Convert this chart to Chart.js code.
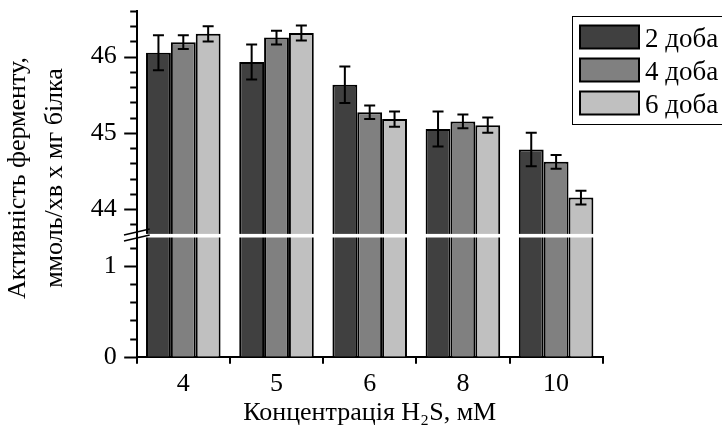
<!DOCTYPE html>
<html>
<head>
<meta charset="utf-8">
<script src="https://cdn.jsdelivr.net/npm/chart.js@4.4.1/dist/chart.umd.min.js"></script>
<style>
    html, body { margin: 0; padding: 0; background: #fff; }
    #wrap { width: 722px; height: 433px; position: relative; }
</style>
</head>
<body>
<div id="wrap"><canvas id="enzymeChart"></canvas></div>
<script>

// concentrations of H2S, mM
const categories = ["4", "5", "6", "8", "10"];

const seriesNames = ["2 доба", "4 доба", "6 доба"];

// enzyme activity, mmol/min x mg protein
const day2 = [46.05, 45.93, 45.63, 45.05, 44.78];
const day4 = [46.19, 46.25, 45.27, 45.15, 44.62];
const day6 = [46.30, 46.31, 45.18, 45.10, 44.15];

// error bars (+/-)
const err2 = [0.23, 0.23, 0.24, 0.23, 0.22];
const err4 = [0.09, 0.09, 0.09, 0.09, 0.09];
const err6 = [0.10, 0.10, 0.10, 0.10, 0.09];

// broken axis: lower and upper segments
const lowerRange = [0, 1.33];
const upperRange = [43.65, 46.6];

const lowerTickLabels = [0, 1];
const upperTickLabels = [44, 45, 46];

const yTitle = ["Активність ферменту,", "ммоль/хв х мг білка"];
const xTitle = "Концентрація H₂S, мМ";

const barColors = ["#404040", "#808080", "#c0c0c0"];

const fontFamily = "'Liberation Serif', 'Times New Roman', serif";

Chart.defaults.font.family = fontFamily;
Chart.defaults.color = "#000";

const seriesValues = [day2, day4, day6];
const seriesErrors = [err2, err4, err6];

const upperSets =
    seriesValues.map((values, i) => ({
        label: seriesNames[i],
        data: values,
        errors: seriesErrors[i],
        yAxisID: "yTop",
        stack: "s" + i,
        backgroundColor: barColors[i],
        borderColor: "#000",
        borderWidth: { top: 2, left: 2, right: 2, bottom: 0 },
        borderSkipped: "start"
    }));

const lowerSets =
    seriesValues.map((values, i) => ({
        label: seriesNames[i],
        data: values.map(v => Math.min(v, lowerRange[1])),
        yAxisID: "yBottom",
        stack: "s" + i,
        backgroundColor: barColors[i],
        borderColor: "#000",
        borderWidth: { top: 0, left: 2, right: 2, bottom: 0 },
        borderSkipped: "start"
    }));

function fixWidth(scale) {
    scale.width = 136.7;
    scale.paddingTop = 0;
    scale.paddingBottom = 0;
}

const brokenAxis = {

    id: "brokenAxis",

    afterDatasetsDraw(chart) {

        const ctx = chart.ctx;
        const area = chart.chartArea;
        const yTop = chart.scales.yTop;
        const yBottom = chart.scales.yBottom;
        const cut = (yTop.bottom + yBottom.top) / 2;

        ctx.save();

        // white gap through the bars
        ctx.fillStyle = "#fff";
        ctx.fillRect(area.left + 1.5, cut - 1.8, area.right - area.left, 3.6);

        // error bars
        ctx.strokeStyle = "#000";
        ctx.lineWidth = 2;

        upperSets.forEach((ds, i) => {

            const meta = chart.getDatasetMeta(i);

            meta.data.forEach((bar, j) => {

                const v = ds.data[j];
                const e = ds.errors[j];
                const y1 = yTop.getPixelForValue(v + e);
                const y2 = yTop.getPixelForValue(v - e);

                ctx.beginPath();
                ctx.moveTo(bar.x, y1);
                ctx.lineTo(bar.x, y2);
                ctx.moveTo(bar.x - 5.5, y1);
                ctx.lineTo(bar.x + 5.5, y1);
                ctx.moveTo(bar.x - 5.5, y2);
                ctx.lineTo(bar.x + 5.5, y2);
                ctx.stroke();

            });

        });

        // major and minor ticks on the value axis
        [yTop, yBottom].forEach(scale => {

            const k0 = Math.ceil(scale.min * 5 - 1e-6);
            const k1 = Math.floor(scale.max * 5 + 1e-6);

            for (let k = k0; k <= k1; k++) {

                const y = Math.round(scale.getPixelForValue(k / 5)) + 0.5;
                const len = k % 5 === 0 ? 12.5 : 6.5;

                ctx.beginPath();
                ctx.moveTo(scale.right, y);
                ctx.lineTo(scale.right - len, y);
                ctx.stroke();

            }

        });

        // break marks
        ctx.lineWidth = 1.5;

        [-3.7, 2.3].forEach(d => {

            ctx.beginPath();
            ctx.moveTo(area.left - 12.7, cut + d + 3);
            ctx.lineTo(area.left + 13, cut + d - 3);
            ctx.stroke();

        });

        ctx.restore();

    },

    afterDraw(chart) {

        const ctx = chart.ctx;

        ctx.save();

        // y axis title
        ctx.fillStyle = "#000";
        ctx.font = "26px " + fontFamily;
        ctx.textAlign = "center";
        ctx.textBaseline = "alphabetic";

        [25, 62].forEach((x, i) => {

            ctx.save();
            ctx.translate(x, 178);
            ctx.rotate(-Math.PI / 2);
            ctx.fillText(yTitle[i], 0, 0);
            ctx.restore();

        });

        // legend
        ctx.strokeStyle = "#000";
        ctx.lineWidth = 1;
        ctx.strokeRect(572.5, 16.5, 160, 108);

        ctx.textAlign = "left";
        ctx.font = "27px " + fontFamily;

        upperSets.forEach((ds, i) => {

            const sy = 25.5 + i * 33;

            ctx.fillStyle = ds.backgroundColor;
            ctx.fillRect(580, sy, 59, 23);

            ctx.lineWidth = 2;
            ctx.strokeRect(580, sy, 59, 23);

            ctx.fillStyle = "#000";
            ctx.fillText(ds.label, 645, sy + 21);

        });

        ctx.restore();

    }

};

new Chart(document.getElementById("enzymeChart"), {

    type: "bar",

    data: {
        labels: categories,
        datasets: [...upperSets, ...lowerSets]
    },

    options: {

        responsive: true,
        maintainAspectRatio: false,
        animation: false,

        categoryPercentage: 0.8,
        barPercentage: 1.0,

        layout: {
            padding: { top: 10.9, right: 119.3, bottom: 0, left: 0 }
        },

        plugins: {
            legend: { display: false },
            tooltip: { enabled: false }
        },

        scales: {

            x: {
                grid: {
                    display: true,
                    offset: true,
                    drawOnChartArea: false,
                    drawTicks: true,
                    tickLength: 7,
                    color: "#000",
                    lineWidth: 2
                },
                border: { display: true, color: "#000", width: 2 },
                ticks: {
                    color: "#000",
                    font: { size: 26 },
                    padding: 5,
                    maxRotation: 0
                },
                title: {
                    display: true,
                    text: xTitle,
                    color: "#000",
                    font: { size: 26 },
                    padding: { top: 0, bottom: 4 }
                },
                afterFit: scale => {
                    scale.height = 76.3;
                    scale.paddingLeft = 0;
                    scale.paddingRight = 0;
                }
            },

            yBottom: {
                type: "linear",
                position: "left",
                stack: "value",
                stackWeight: 121,
                weight: 0,
                stacked: false,
                min: lowerRange[0],
                max: lowerRange[1],
                grid: { display: false, drawTicks: false },
                border: { display: true, color: "#000", width: 2 },
                ticks: {
                    stepSize: 1,
                    includeBounds: false,
                    autoSkip: false,
                    padding: 20,
                    font: { size: 26 },
                    callback: v => lowerTickLabels.includes(v) ? String(v) : ""
                },
                afterFit: fixWidth
            },

            yTop: {
                type: "linear",
                position: "left",
                stack: "value",
                stackWeight: 224.8,
                weight: 1,
                stacked: false,
                min: upperRange[0],
                max: upperRange[1],
                grid: { display: false, drawTicks: false },
                border: { display: true, color: "#000", width: 2 },
                ticks: {
                    stepSize: 1,
                    includeBounds: false,
                    autoSkip: false,
                    padding: 20,
                    font: { size: 26 },
                    callback: v => upperTickLabels.includes(v) ? String(v) : ""
                },
                afterFit: fixWidth
            }

        }

    },

    plugins: [brokenAxis]

});

</script>
</body>
</html>
